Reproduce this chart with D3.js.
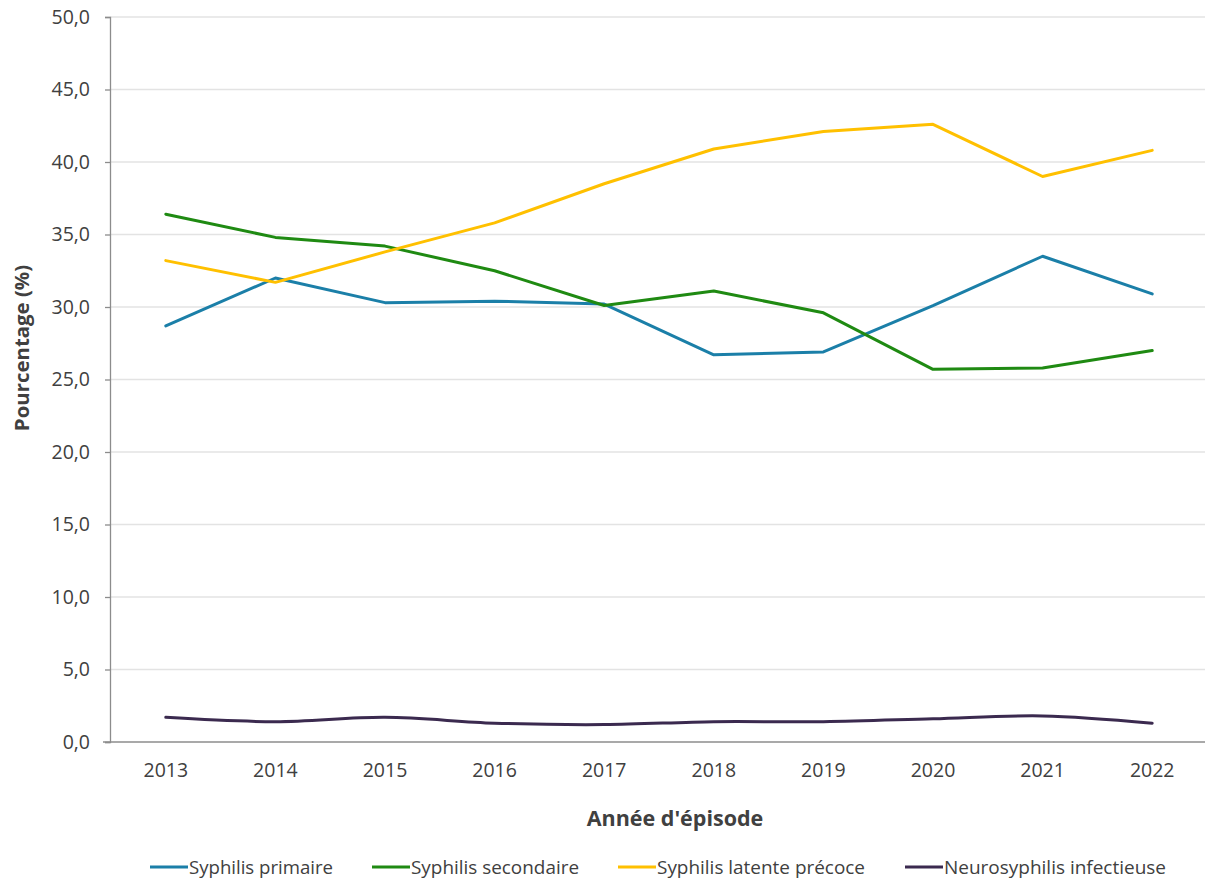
<!DOCTYPE html>
<html>
<head>
<meta charset="utf-8">
<script src="https://cdn.jsdelivr.net/npm/d3@7"></script>
<style>
  html, body { margin: 0; padding: 0; background: #fff; }
  svg { display: block; }
  text { font-family: "Open Sans", "Noto Sans", sans-serif; fill: #404040; }
</style>
</head>
<body>
<svg id="chart" width="1205" height="884"></svg>
<script>
// Years of the episodes
const years = ["2013", "2014", "2015", "2016", "2017", "2018", "2019", "2020", "2021", "2022"];

// Share of each syphilis stage (%)
const primaire   = [28.7, 32.0, 30.3, 30.4, 30.2, 26.7, 26.9, 30.1, 33.5, 30.9];
const secondaire = [36.4, 34.8, 34.2, 32.5, 30.1, 31.1, 29.6, 25.7, 25.8, 27.0];
const latente    = [33.2, 31.7, 33.8, 35.8, 38.5, 40.9, 42.1, 42.6, 39.0, 40.8];
const neuro      = [1.7, 1.4, 1.7, 1.3, 1.2, 1.4, 1.4, 1.6, 1.8, 1.3];

const seriesNames = ["Syphilis primaire", "Syphilis secondaire", "Syphilis latente précoce", "Neurosyphilis infectieuse"];
const yTicks = [0, 5, 10, 15, 20, 25, 30, 35, 40, 45, 50];

const series = [
  { name: seriesNames[0], values: primaire,   color: "#1b7fa8", smooth: false },
  { name: seriesNames[1], values: secondaire, color: "#1f8a12", smooth: false },
  { name: seriesNames[2], values: latente,    color: "#ffc000", smooth: false },
  { name: seriesNames[3], values: neuro,      color: "#3b2a4f", smooth: true }
];

const svg = d3.select("#chart");
const margin = { left: 111, right: 1207, top: 17, bottom: 742 };

const x = d3.scaleBand().domain(years).range([margin.left, margin.right]);
const y = d3.scaleLinear().domain([0, 50]).range([margin.bottom, margin.top]);
const cx = d => x(d) + x.bandwidth() / 2;

// Horizontal gridlines
svg.append("g")
  .selectAll("line")
  .data(yTicks.filter(t => t > 0))
  .join("line")
  .attr("x1", 110).attr("x2", 1205)
  .attr("y1", d => y(d)).attr("y2", d => y(d))
  .attr("stroke", "#e3e3e3").attr("stroke-width", 1.5);

// Y axis
const yAxis = svg.append("g")
  .attr("transform", "translate(110,0)")
  .call(d3.axisLeft(y).tickValues(yTicks).tickSize(5).tickPadding(15)
    .tickFormat(d => d3.format(".1f")(d).replace(".", ",")));
yAxis.select(".domain").attr("stroke", "#8c8c8c").attr("stroke-width", 1.3);
yAxis.selectAll(".tick line").attr("stroke", "#8c8c8c").attr("stroke-width", 1.3);
yAxis.selectAll(".tick text").attr("font-size", 19.5).attr("fill", "#404040")
  .attr("font-family", "'Open Sans', sans-serif");

// X axis
const xAxis = svg.append("g")
  .attr("transform", `translate(0,${margin.bottom})`)
  .call(d3.axisBottom(x).tickSize(0).tickPadding(21));
xAxis.select(".domain").attr("d", `M103,0H1205`).attr("stroke", "#8c8c8c").attr("stroke-width", 1.5);
xAxis.selectAll(".tick text").attr("font-size", 19.5).attr("fill", "#404040")
  .attr("font-family", "'Open Sans', sans-serif");

// Axis titles
svg.append("text")
  .attr("x", 675).attr("y", 826)
  .attr("text-anchor", "middle")
  .attr("font-size", 21.5).attr("font-weight", "bold").attr("fill", "#000")
  .text("Année d'épisode");

svg.append("text")
  .attr("transform", "translate(29,348) rotate(-90)")
  .attr("text-anchor", "middle")
  .attr("font-size", 20.4).attr("font-weight", "bold").attr("fill", "#000")
  .text("Pourcentage (%)");

// Series lines
const lineStraight = d3.line().x((d, i) => cx(years[i])).y(d => y(d));
const lineSmooth = d3.line().x((d, i) => cx(years[i])).y(d => y(d)).curve(d3.curveCatmullRom.alpha(0.5));

svg.append("g")
  .selectAll("path")
  .data(series)
  .join("path")
  .attr("d", s => (s.smooth ? lineSmooth : lineStraight)(s.values))
  .attr("fill", "none")
  .attr("stroke", s => s.color)
  .attr("stroke-width", 3)
  .attr("stroke-linejoin", "round")
  .attr("stroke-linecap", "round");

// Legend
const legendX = [150, 372, 618, 905];
const legendTextW = [144, 168, 208, 222];
const legend = svg.append("g");
series.forEach((s, i) => {
  const g = legend.append("g").attr("transform", `translate(${legendX[i]},867)`);
  g.append("line").attr("x1", 0).attr("x2", 38).attr("y1", 0).attr("y2", 0)
    .attr("stroke", s.color).attr("stroke-width", 3);
  g.append("text").attr("x", 39).attr("y", 6.5)
    .attr("font-size", 18).attr("fill", "#404040")
    .attr("textLength", legendTextW[i]).attr("lengthAdjust", "spacingAndGlyphs")
    .text(s.name);
});
</script>
</body>
</html>
